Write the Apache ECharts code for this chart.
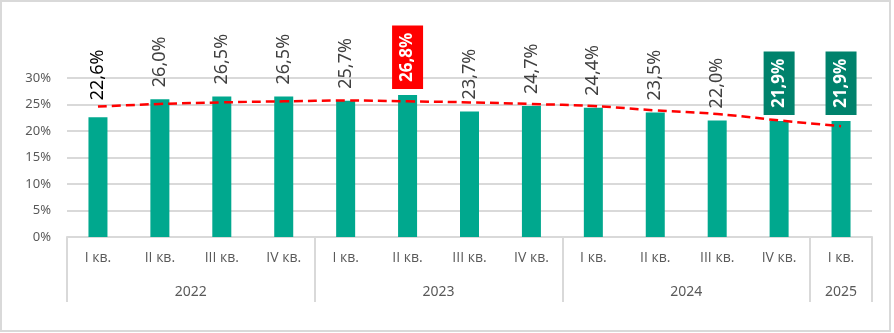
<!DOCTYPE html>
<html>
<head>
<meta charset="utf-8">
<script src="https://cdn.jsdelivr.net/npm/echarts@6/dist/echarts.min.js"></script>
<style>
html,body{margin:0;padding:0;background:#fff;}
#chart{width:894px;height:333px;}
</style>
</head>
<body>
<div id="chart"></div>
<script>
// ---- data ----
const quarters = ['I кв.','II кв.','III кв.','IV кв.','I кв.','II кв.','III кв.','IV кв.','I кв.','II кв.','III кв.','IV кв.','I кв.'];
const years = ['2022','2023','2024','2025'];
const quartersPerYear = [4, 4, 4, 1];
const values = [22.6, 26.0, 26.5, 26.5, 25.7, 26.8, 23.7, 24.7, 24.4, 23.5, 22.0, 21.9, 21.9];
const trend = [24.6, 25.1, 25.4, 25.6, 25.75, 25.6, 25.4, 25.1, 24.7, 23.9, 23.2, 22.0, 20.9];
const yTicks = [0, 5, 10, 15, 20, 25, 30];

// ---- build ----
const FONT = 'Noto Sans';
const CYR_FONT = 'Open Sans';
const redIdx = [5];
const greenIdx = [11, 12];
const firstIdx = [0];

const yearStarts = [];
const yearCenters = {};
let acc = 0;
quartersPerYear.forEach((n, i) => {
  yearStarts.push(acc);
  yearCenters[(acc + n / 2).toFixed(1)] = years[i];
  acc += n;
});

const fmt = v => v.toFixed(1).replace('.', ',') + '%';

const barData = values.map((v, i) => {
  const item = { value: v };
  if (redIdx.includes(i) || greenIdx.includes(i)) {
    item.label = {
      distance: 6,
      color: '#ffffff',
      fontWeight: 'bold',
      fontSize: 17,
      lineHeight: 20,
      padding: [6, 7, 5, 7],
      backgroundColor: redIdx.includes(i) ? '#FF0000' : '#00826C'
    };
  } else if (firstIdx.includes(i)) {
    item.label = { distance: 17, color: '#000000' };
  }
  return item;
});

const chart = echarts.init(document.getElementById('chart'), null, { renderer: 'canvas' });
chart.setOption({
  animation: false,
  backgroundColor: '#ffffff',
  textStyle: { fontFamily: FONT },
  graphic: [{
    type: 'rect',
    shape: { x: 1, y: 1, width: 889, height: 330 },
    style: { fill: 'none', stroke: '#D9D9D9', lineWidth: 2 },
    silent: true
  }],
  grid: { left: 67, right: 22, top: 78, bottom: 96, containLabel: false },
  xAxis: [{
    type: 'category',
    data: quarters,
    position: 'bottom',
    axisLine: { show: true, lineStyle: { color: '#D9D9D9', width: 2 } },
    axisTick: {
      show: true,
      length: 65,
      interval: (idx) => yearStarts.includes(idx),
      lineStyle: { color: '#D9D9D9', width: 2 }
    },
    axisLabel: { interval: 0, margin: 14, color: '#595959', fontSize: 14, fontFamily: CYR_FONT },
    splitLine: { show: false }
  }, {
    type: 'value',
    min: 0,
    max: quarters.length,
    interval: 0.5,
    position: 'bottom',
    axisLine: { show: false },
    axisTick: { show: false },
    splitLine: { show: false },
    axisLabel: {
      margin: 48,
      color: '#595959',
      fontSize: 14,
      fontFamily: FONT,
      showMinLabel: true,
      showMaxLabel: true,
      formatter: v => yearCenters[Number(v).toFixed(1)] || ''
    }
  }],
  yAxis: {
    type: 'value',
    min: yTicks[0],
    max: yTicks[yTicks.length - 1],
    interval: yTicks[1] - yTicks[0],
    axisLine: { show: false },
    axisTick: { show: false },
    axisLabel: { formatter: '{value}%', color: '#595959', fontSize: 13, margin: 16, fontFamily: FONT },
    splitLine: { lineStyle: { color: '#D9D9D9', width: 2 } }
  },
  series: [{
    type: 'bar',
    xAxisIndex: 0,
    data: barData,
    barWidth: 19,
    itemStyle: { color: '#00A88E' },
    label: {
      show: true,
      position: 'top',
      rotate: 90,
      align: 'left',
      verticalAlign: 'middle',
      distance: 12,
      fontSize: 18,
      color: '#404040',
      fontFamily: FONT,
      formatter: p => fmt(p.value)
    },
    z: 2
  }, {
    type: 'line',
    xAxisIndex: 0,
    data: trend,
    smooth: true,
    symbol: 'none',
    lineStyle: { color: '#FF0000', width: 2.5, type: [9, 5] },
    z: 3
  }]
});
</script>
</body>
</html>
